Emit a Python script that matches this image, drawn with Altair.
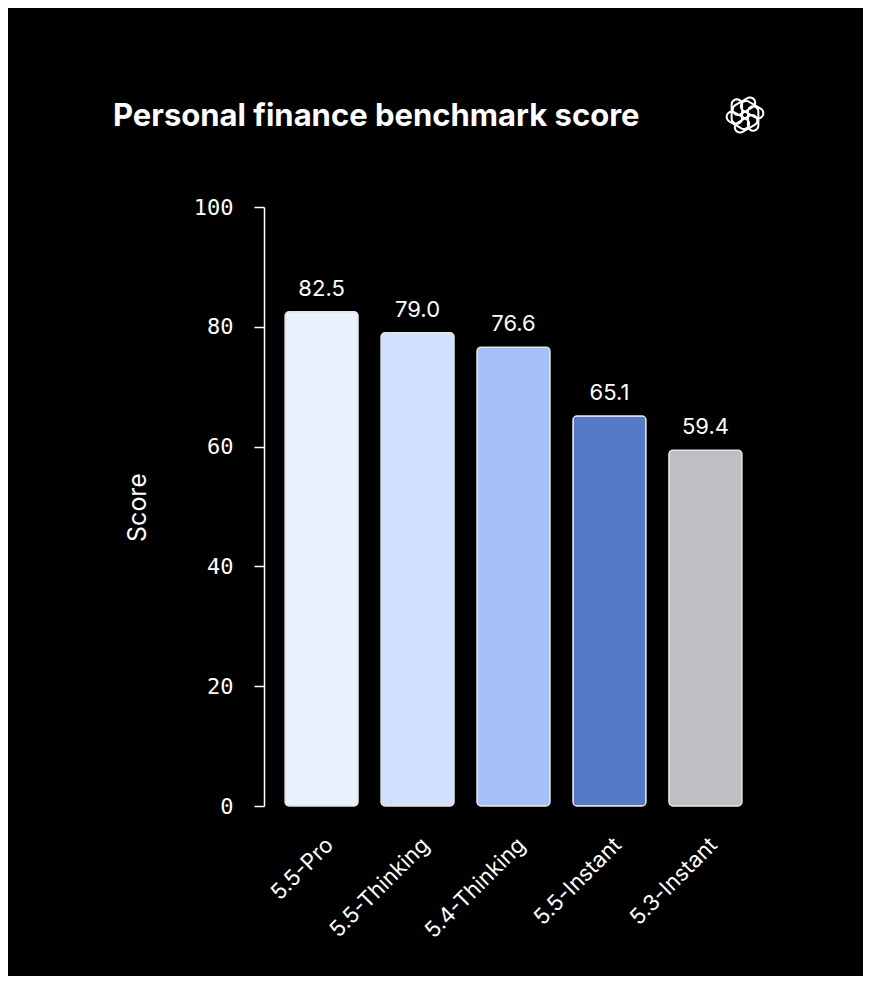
import math
import altair as alt
import pandas as pd

models = ["5.5-Pro", "5.5-Thinking", "5.4-Thinking", "5.5-Instant", "5.3-Instant"]
scores = [82.5, 79.0, 76.6, 65.1, 59.4]
score_labels = ["82.5", "79.0", "76.6", "65.1", "59.4"]
bar_colors = ["#EAF0FE", "#CFDFFC", "#A5BFF9", "#5479C6", "#BEBFC3"]
y_ticks = [0, 20, 40, 60, 80, 100]
title_text = "Personal finance benchmark score"
y_title = "Score"

df = pd.DataFrame({"model": models, "score": scores, "label": score_labels})


def capsule(cx, cy, a, L, r, n=10):
    ux, uy = math.cos(a), math.sin(a)
    nx, ny = -uy, ux
    pts = []
    for i in range(n + 1):
        t = -math.pi / 2 + math.pi * i / n
        pts.append((cx + L * ux + r * (math.cos(t) * ux + math.sin(t) * nx),
                    cy + L * uy + r * (math.cos(t) * uy + math.sin(t) * ny)))
    for i in range(n + 1):
        t = math.pi / 2 + math.pi * i / n
        pts.append((cx - L * ux + r * (math.cos(t) * ux + math.sin(t) * nx),
                    cy - L * uy + r * (math.cos(t) * uy + math.sin(t) * ny)))
    return "M" + " L".join(f"{x:.3f},{y:.3f}" for x, y in pts) + " Z"


# decorative logo glyph (six interlocking rounded links)
logo_parts = []
for k in range(6):
    th = math.radians(60 * k)
    d, sft, L, r = 0.42, 0.18, 0.36, 0.27
    cx = d * math.cos(th) - sft * math.sin(th)
    cy = d * math.sin(th) + sft * math.cos(th)
    logo_parts.append(capsule(cx, cy, th + math.pi / 2, L, r))
logo_path = " ".join(logo_parts)

FONT = "Inter"

base = alt.Chart(df)

bars = base.mark_bar(
    cornerRadius=4, stroke="#E4E4E4", strokeWidth=1.5
).encode(
    x=alt.X(
        "model:N",
        sort=models,
        scale=alt.Scale(paddingInner=0.24, paddingOuter=0.22),
        axis=alt.Axis(
            title=None,
            labelAngle=-45,
            labelAlign="right",
            labelBaseline="top",
            labelPadding=28,
            labelOffset=1,
            labelFont=FONT,
            labelFontSize=22,
            labelColor="white",
            domain=False,
            ticks=False,
            grid=False,
        ),
    ),
    y=alt.Y(
        "score:Q",
        scale=alt.Scale(domain=[0, 100], nice=False),
        axis=alt.Axis(
            values=y_ticks,
            title=y_title,
            titleFont=FONT,
            titleFontSize=25,
            titleFontWeight="normal",
            titleColor="white",
            titleAngle=-90,
            titleX=-127,
            titleY=300,
            titleAlign="center",
            titleBaseline="middle",
            labelFont="DejaVu Sans Mono",
            labelFontSize=22,
            labelColor="white",
            labelPadding=21,
            tickSize=10,
            tickColor="white",
            tickWidth=1.5,
            domainColor="white",
            domainWidth=1.5,
            grid=False,
        ),
    ),
    color=alt.Color(
        "model:N", scale=alt.Scale(domain=models, range=bar_colors), legend=None
    ),
)

texts = base.mark_text(
    baseline="alphabetic", dy=-16, font=FONT, fontSize=22, color="white"
).encode(
    x=alt.X("model:N", sort=models),
    y=alt.Y("score:Q"),
    text="label:N",
)

title = alt.Chart(pd.DataFrame({"t": [title_text]})).mark_text(
    align="left", baseline="alphabetic", font=FONT, fontSize=31,
    fontWeight="bold", color="white"
).encode(x=alt.value(-151), y=alt.value(-81), text="t:N")

logo = alt.Chart(pd.DataFrame({"k": [0]})).mark_point(
    shape=logo_path, filled=False, stroke="white", strokeWidth=2.0, size=1500, opacity=1
).encode(x=alt.value(481), y=alt.value(-92))

chart = (
    alt.layer(bars, texts, title, logo)
    .properties(
        width=499,
        height=599,
        autosize=alt.AutoSizeParams(type="none"),
        padding={"left": 256, "top": 199, "right": 100, "bottom": 170},
        background="black",
    )
    .configure_view(stroke=None)
)

chart.save("out.html", embed_options={"renderer": "svg", "actions": False})
